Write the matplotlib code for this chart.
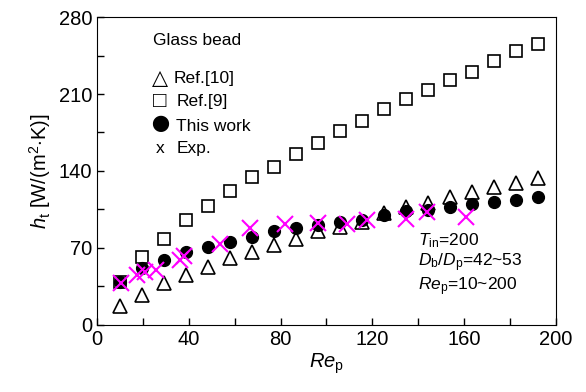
import matplotlib
matplotlib.use("Agg")
import matplotlib.pyplot as plt
from matplotlib.ticker import MultipleLocator

plt.rcParams['font.family'] = ['Liberation Sans', 'DejaVu Sans']
plt.rcParams['mathtext.fontset'] = 'custom'
plt.rcParams['mathtext.rm'] = 'Liberation Sans'
plt.rcParams['mathtext.it'] = 'Liberation Sans:italic'

# Re_p positions shared by the model/reference series
re_p = [10, 19.6, 29.2, 38.7, 48.3, 57.9, 67.5, 77.1, 86.6, 96.2,
        105.8, 115.4, 125, 134.6, 144.2, 153.8, 163.4, 173, 182.6, 192]

h_ref10 = [17, 27, 38, 45.5, 53, 60.5, 66.5, 72.5, 78, 85,
           89.5, 94, 101.5, 107.5, 111, 116.5, 121, 125, 129.5, 133.5]
h_ref9 = [39, 62, 78, 95, 108, 122, 134.5, 143.6, 155.5, 165.5,
          176.4, 185.5, 196.4, 205.5, 213.6, 222.7, 230, 240, 249, 255.5]
h_this = [39.5, 51.5, 59, 66, 70.5, 75, 80, 85, 88, 91,
          93.5, 95.5, 100, 103.5, 104.5, 107, 110, 112, 114, 116]

# experiment points
re_exp = [10.5, 17.5, 21, 25.5, 36, 38, 53.5, 66.5, 82, 96.5, 109, 117.5, 134.5, 144, 161]
h_exp = [38.5, 45.5, 48.5, 50, 59, 62.5, 73.5, 88.5, 91.5, 92.5, 91.5, 95.5, 96.5, 103, 98.5]

fig = plt.figure(figsize=(5.86, 3.92), dpi=100)
ax = fig.add_axes([0.1655, 0.171, 0.7833, 0.7856])

ax.plot(re_p, h_ref10, ls='none', marker='^', ms=9.5, mfc='white', mec='black', mew=1.2)
ax.plot(re_p, h_ref9, ls='none', marker='s', ms=8, mfc='white', mec='black', mew=1.2)
ax.plot(re_p, h_this, ls='none', marker='o', ms=8.5, mfc='black', mec='black')
ax.plot(re_exp, h_exp, ls='none', marker='x', ms=11, mec='#ff00ff', mew=1.5)

ax.set_xlim(0, 200)
ax.set_ylim(0, 280)
ax.xaxis.set_major_locator(MultipleLocator(40))
ax.xaxis.set_minor_locator(MultipleLocator(20))
ax.yaxis.set_major_locator(MultipleLocator(70))
ax.yaxis.set_minor_locator(MultipleLocator(35))
ax.tick_params(which='both', direction='in', length=5, width=1,
               top=False, right=False, labelsize=14.5)

ax.set_xlabel(r'$Re_{\rm p}$', fontsize=14.5, labelpad=2)
ax.set_ylabel(r'$h_{\rm t}$ [W/(m$^2$$\cdot$K)]', fontsize=14.5, labelpad=4)

# hand-made legend
fs = 12.5
ax.text(24.4, 259, 'Glass bead', fontsize=fs, va='center', ha='left')
ax.text(27.5, 224.5, '△', fontsize=15, va='center', ha='center')
ax.text(33.5, 224.5, 'Ref.[10]', fontsize=fs, va='center', ha='left')
ax.text(27.5, 203, '□', fontsize=16, va='center', ha='center')
ax.text(34.9, 203, 'Ref.[9]', fontsize=fs, va='center', ha='left')
ax.text(27.5, 181, '●', fontsize=13, va='center', ha='center',
        family=['Noto Sans CJK SC', 'DejaVu Sans'])
ax.text(34.4, 180, 'This work', fontsize=fs, va='center', ha='left')
ax.text(27.5, 160, 'x', fontsize=fs, va='center', ha='center')
ax.text(34.9, 160, 'Exp.', fontsize=fs, va='center', ha='left')

# conditions
ax.text(139.9, 76.4, r'$T_{\rm in}$=200', fontsize=fs, va='center', ha='left')
ax.text(139.9, 56.4, r'$D_{\rm b}/D_{\rm p}$=42~53', fontsize=fs, va='center', ha='left')
ax.text(139.9, 34.5, r'$Re_{\rm p}$=10~200', fontsize=fs, va='center', ha='left')

fig.savefig('out.png', dpi=100)
